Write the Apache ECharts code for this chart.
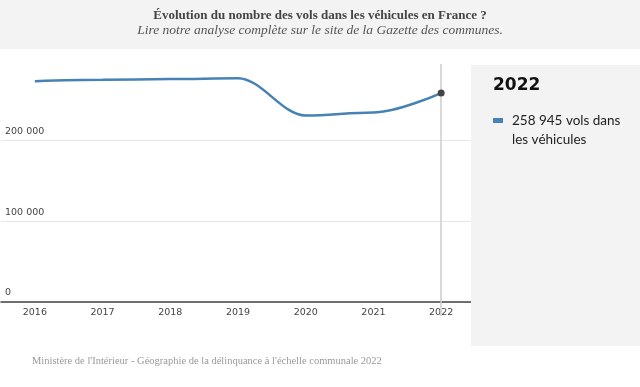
<!DOCTYPE html>
<html><head><meta charset="utf-8">
<script src="https://cdn.jsdelivr.net/npm/echarts@6/dist/echarts.min.js"></script>
<style>html,body{margin:0;padding:0;background:#fff;}#c{width:640px;height:387px;}</style>
</head><body><div id="c"></div>
<script>
const years = ['2016','2017','2018','2019','2020','2021','2022'];
const vols = [273800, 275600, 276300, 277400, 231200, 235000, 258945];
const yTicks = [0, 100000, 200000];
const titleText = 'Évolution du nombre des vols dans les véhicules en France ?';
const subtitleText = 'Lire notre analyse complète sur le site de la Gazette des communes.';
const sourceText = "Ministère de l'Intérieur - Géographie de la délinquance à l'échelle communale 2022";
const highlightYear = '2022';
const highlightLabel = '258 945 vols dans\nles véhicules';

const chart = echarts.init(document.getElementById('c'), null, {renderer: 'canvas'});
const fmt = v => String(v).replace(/\B(?=(\d{3})+(?!\d))/g, ' ');
chart.setOption({
  animation: false,
  backgroundColor: '#fff',
  graphic: [
    {type: 'rect', left: 0, top: 0, shape: {width: 640, height: 49}, style: {fill: '#f3f3f3'}, z: 0},
    {type: 'rect', left: 471, top: 65, shape: {width: 169, height: 281}, style: {fill: '#f3f3f3'}, z: 10},
    {type: 'text', left: 'center', top: 9, style: {text: titleText, font: 'bold 13px "Liberation Serif"', fill: '#444'}},
    {type: 'text', left: 'center', top: 23, style: {text: subtitleText, font: 'italic 13.5px "Liberation Serif"', fill: '#555'}},
    {type: 'text', left: 493, top: 77, z: 11, style: {text: highlightYear, font: 'bold 17px "DejaVu Sans"', fill: '#111'}},
    {type: 'rect', left: 493, top: 118, z: 11, shape: {width: 10, height: 5}, style: {fill: '#4682b4'}},
    {type: 'text', left: 512, top: 111, z: 11, style: {text: highlightLabel, font: '13.5px "Lato"', fill: '#222', lineHeight: 19}},
    {type: 'text', left: 32, top: 356, style: {text: sourceText, font: '10.5px "Liberation Serif"', fill: '#999'}}
  ],
  grid: {left: 1, right: 165, top: 60, bottom: 85, containLabel: false},
  xAxis: {
    type: 'category', data: years, boundaryGap: true,
    axisLine: {show: true, lineStyle: {color: '#444', width: 1.5}},
    axisTick: {show: false},
    axisLabel: {color: '#444', fontFamily: 'DejaVu Sans', fontSize: 9.5, margin: 6}
  },
  yAxis: {
    type: 'value', min: 0, max: 300000, interval: 100000,
    axisLine: {show: false}, axisTick: {show: false},
    splitLine: {showMaxLine: false, lineStyle: {color: '#e6e6e6', width: 1}},
    axisLabel: {inside: true, margin: 4, verticalAlign: 'bottom', padding: [0,0,4,0],
      color: '#444', fontFamily: 'DejaVu Sans', fontSize: 9.5,
      formatter: v => (yTicks.includes(v) ? fmt(v) : '')}
  },
  series: [{
    type: 'line', data: vols, smooth: 0.35, smoothMonotone: 'x',
    lineStyle: {color: '#4682b4', width: 2.5},
    symbol: 'none',
    markLine: {
      silent: true, symbol: 'none', label: {show: false},
      lineStyle: {color: '#ccc', type: 'solid', width: 1.5},
      data: [[{coord: [highlightYear, 0], y: 316}, {coord: [highlightYear, 0], y: 64}]]
    },
    markPoint: {
      symbol: 'circle', symbolSize: 7, label: {show: false},
      itemStyle: {color: '#444'},
      data: [{coord: [highlightYear, vols[vols.length - 1]]}]
    }
  }]
});
</script></body></html>
